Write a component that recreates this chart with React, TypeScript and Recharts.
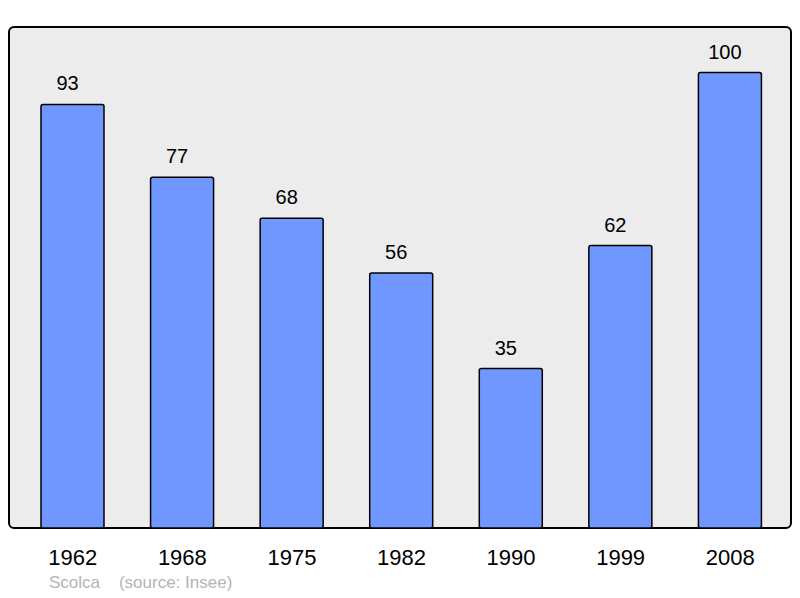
import { Bar, BarChart, LabelList, ReferenceArea, XAxis, YAxis } from "recharts";

const years = ["1962", "1968", "1975", "1982", "1990", "1999", "2008"];
const population = [93, 77, 68, 56, 35, 62, 100];

const data = years.map((year, i) => ({ year, value: population[i] }));

const PAD_LEFT = 9;
const PAD_RIGHT = 6;

// reference area spans only the padded band range, so widen it back to the plot edges
const Frame = (props: any) => (
	<rect
		x={props.x - PAD_LEFT}
		y={props.y}
		width={props.width + PAD_LEFT + PAD_RIGHT}
		height={props.height}
		rx={5}
		ry={5}
		fill="#ececec"
		stroke="#000"
		strokeWidth={2}
	/>
);

const App = () => {
	return (
		<div
			style={{
				position: "absolute",
				left: 0,
				top: 0,
				width: 800,
				height: 598,
				fontFamily: "'Liberation Sans', Arial, sans-serif",
			}}
		>
			<BarChart
				width={800}
				height={598}
				data={data}
				margin={{ top: 27, right: 9, bottom: 40, left: 9 }}
			>
				<YAxis hide type="number" domain={[0, 110]} />
				<XAxis
					dataKey="year"
					height={30}
					axisLine={false}
					tickLine={false}
					tickMargin={15}
					padding={{ left: PAD_LEFT, right: PAD_RIGHT }}
					tick={{ fill: "#000", fontSize: 22 }}
				/>
				<ReferenceArea y1={0} y2={110} shape={Frame} />
				<Bar
					dataKey="value"
					barSize={63}
					fill="#7096ff"
					stroke="#000"
					strokeWidth={1.5}
					radius={2}
					isAnimationActive={false}
				>
					<LabelList
						dataKey="value"
						position="top"
						offset={14}
						dx={-5}
						style={{ fill: "#000", fontSize: 20 }}
					/>
				</Bar>
			</BarChart>
			<div
				style={{
					position: "absolute",
					left: 49,
					top: 573,
					fontSize: 17,
					color: "#b4b4b4",
					whiteSpace: "pre",
				}}
			>
				{"Scolca    (source: Insee)"}
			</div>
		</div>
	);
};

export default App;
